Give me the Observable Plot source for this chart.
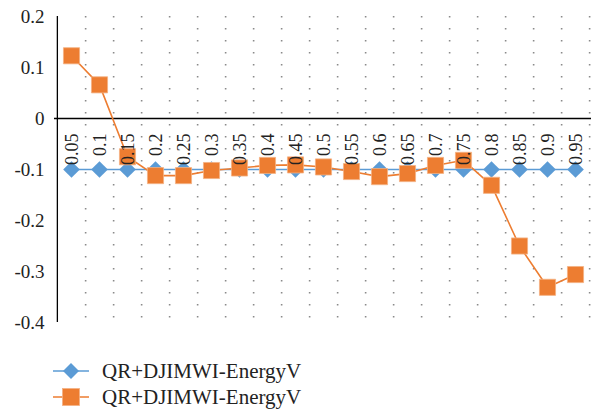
<!DOCTYPE html>
<html>
<head>
<meta charset="utf-8">
<script src="https://cdn.jsdelivr.net/npm/d3@7"></script>
<script src="https://cdn.jsdelivr.net/npm/@observablehq/plot@0.6"></script>
<style>
  html, body { margin: 0; padding: 0; background: #fff; }
  #chart { width: 597px; }
  #chart svg, #chart svg text { font-family: "Liberation Serif", "Times New Roman", Times, serif !important; }
  #legend { margin-top: 18px; margin-left: 53px; font-family: "Liberation Serif", "Times New Roman", Times, serif; font-size: 21px; color: #222; }
  .row { display: flex; align-items: center; height: 26px; }
  .row svg { margin-right: 13px; }
</style>
</head>
<body>
<div id="chart"></div>
<div id="legend"></div>
<script>
const categories = ["0.05","0.1","0.15","0.2","0.25","0.3","0.35","0.4","0.45","0.5","0.55","0.6","0.65","0.7","0.75","0.8","0.85","0.9","0.95"];
const seriesBlue = [-0.1,-0.1,-0.1,-0.1,-0.1,-0.1,-0.1,-0.1,-0.1,-0.1,-0.1,-0.1,-0.1,-0.1,-0.1,-0.1,-0.1,-0.1,-0.1];
const seriesOrange = [0.123,0.066,-0.075,-0.112,-0.112,-0.102,-0.097,-0.092,-0.091,-0.095,-0.104,-0.114,-0.108,-0.092,-0.082,-0.131,-0.25,-0.331,-0.306];
const seriesNames = ["QR+DJIMWI-EnergyV","QR+DJIMWI-EnergyV"];
const yTicks = [0.2,0.1,0,-0.1,-0.2,-0.3,-0.4];

const blue = "#5B9BD5", orange = "#ED7D31";
const W = 597, ML = 54, MR = 6;
const bw = (W - ML - MR) / categories.length;
const font = "'Liberation Serif', 'Times New Roman', serif";

const blueData = categories.map((c, i) => ({c, v: seriesBlue[i]}));
const orangeData = categories.map((c, i) => ({c, v: seriesOrange[i]}));

const chart = Plot.plot({
  width: W,
  height: 340,
  marginLeft: ML,
  marginRight: MR,
  marginTop: 16,
  marginBottom: 18,
  style: {fontFamily: font, background: "#fff"},
  x: {type: "band", domain: categories, padding: 0, axis: null},
  y: {domain: [-0.4, 0.2], axis: null},
  marks: [
    Plot.ruleX(categories, {x: d => d, dx: bw / 2, stroke: "#8a8a8a", strokeWidth: 1.6, strokeDasharray: "1.6,10.4"}),
    Plot.ruleY([0], {stroke: "#000", strokeWidth: 1.3}),
    Plot.ruleX([categories[0]], {x: d => d, dx: -bw / 2, stroke: "#000", strokeWidth: 1.3}),
    Plot.axisY({ticks: yTicks, tickSize: 0, tickPadding: 10, fontSize: 19, fontFamily: font, fill: "#222", label: null, tickFormat: d => String(d)}),
    Plot.line(blueData, {x: "c", y: "v", stroke: blue, strokeWidth: 1.6}),
    Plot.line(orangeData, {x: "c", y: "v", stroke: orange, strokeWidth: 1.6}),
    Plot.dot(blueData, {x: "c", y: "v", symbol: "diamond2", r: 7.5, fill: blue, stroke: "none"}),
    Plot.dot(orangeData, {x: "c", y: "v", symbol: "square", r: 9.1, fill: orange, stroke: "#f4b183", strokeWidth: 0.8}),
    Plot.text(categories, {x: d => d, y: 0, text: d => d, rotate: -90, textAnchor: "end", lineAnchor: "middle", dy: 15, dx: 1, fontSize: 18, fontFamily: font, fill: "#222"})
  ]
});
document.getElementById("chart").appendChild(chart);

const legend = document.getElementById("legend");
const symbols = [
  `<path d="M18,2 L26,10 L18,18 L10,10 Z" fill="${blue}"/>`,
  `<rect x="9.5" y="1.5" width="17" height="17" fill="${orange}" stroke="#f4b183" stroke-width="0.8"/>`
];
const colors = [blue, orange];
seriesNames.forEach((name, i) => {
  const row = document.createElement("div");
  row.className = "row";
  row.innerHTML = `<svg width="36" height="20"><line x1="0" x2="36" y1="10" y2="10" stroke="${colors[i]}" stroke-width="1.6"/>${symbols[i]}</svg><span>${name}</span>`;
  legend.appendChild(row);
});
</script>
</body>
</html>
